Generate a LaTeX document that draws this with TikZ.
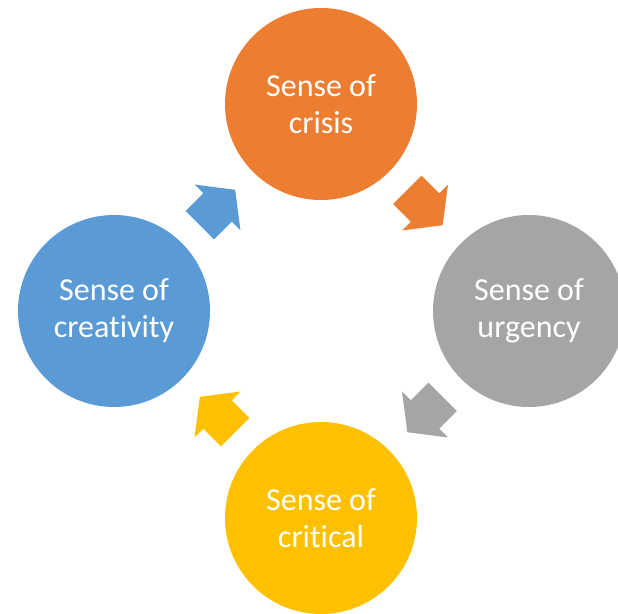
\documentclass[tikz,border=0pt]{standalone}
\usepackage{fontspec}
\setmainfont{Carlito}[Ligatures={NoCommon,NoContextual},Contextuals=NoAlternate]
\usetikzlibrary{calc,positioning}
\definecolor{orng}{HTML}{ED7D31}
\definecolor{gry}{HTML}{A5A5A5}
\definecolor{ylw}{HTML}{FFC000}
\definecolor{blu}{HTML}{5B9BD5}
\tikzset{
  sense/.style={circle,minimum size=192pt,inner sep=0pt,text=white,align=center,
    font=\fontsize{32}{37}\selectfont}
}

\begin{document}
\begin{tikzpicture}[x=1pt,y=1pt]
  \useasboundingbox (0,0) rectangle (618,613);
  \clip (0,0) rectangle (618,613);
  \node[sense,fill=orng] (crisis) at (321,509) {Sense of\\crisis};
  \node[sense,fill=gry] (urgency) at (529,302) {Sense of\\urgency};
  \node[sense,fill=ylw] (critical) at (321,95) {Sense of\\critical};
  \node[sense,fill=blu] (creativity) at (114,302) {Sense of\\creativity};

  \foreach \a/\b/\c/\r in {crisis/urgency/orng/-45,urgency/critical/gry/-135,
      critical/creativity/ylw/135,creativity/crisis/blu/45} {
    \begin{scope}[shift={($(\a)!0.5!(\b)$)},rotate=\r]
      \fill[\c] (-25,-20) -- (0,-20) -- (0,-32.5) -- (25,0) -- (0,32.5) -- (0,20) -- (-25,20) -- cycle;
    \end{scope}
  }
\end{tikzpicture}
\end{document}
